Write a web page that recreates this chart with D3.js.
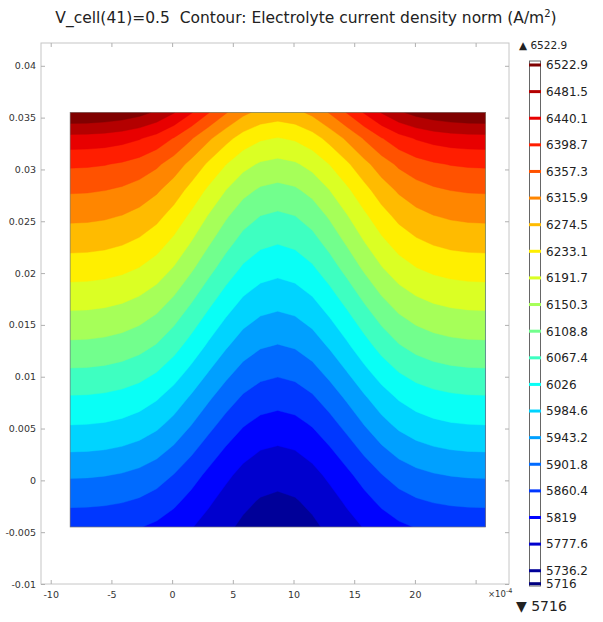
<!DOCTYPE html>
<html>
<head>
<meta charset="utf-8">
<script src="https://cdn.jsdelivr.net/npm/d3@7"></script>
<style>
  body { margin: 0; background: #fff; }
  svg { display: block; font-family: "DejaVu Sans", sans-serif; }
</style>
</head>
<body>
<div id="chart"></div>
<script>
// contour levels shown in the colour legend (A/m^2)
const levels = [6522.9, 6481.5, 6440.1, 6398.7, 6357.3, 6315.9, 6274.5, 6233.1, 6191.7,
  6150.3, 6108.8, 6067.4, 6026, 5984.6, 5943.2, 5901.8, 5860.4, 5819, 5777.6, 5736.2, 5716];
const levelLabels = ["6522.9", "6481.5", "6440.1", "6398.7", "6357.3", "6315.9", "6274.5",
  "6233.1", "6191.7", "6150.3", "6108.8", "6067.4", "6026", "5984.6", "5943.2", "5901.8",
  "5860.4", "5819", "5777.6", "5736.2", "5716"];
const maxValue = 6522.9;
const minValue = 5716;

const xTicks = [-10, -5, 0, 5, 10, 15, 20, 25];
const xTickLabels = ["-10", "-5", "0", "5", "10", "15", "20", ""];
const yTicks = [0.04, 0.035, 0.03, 0.025, 0.02, 0.015, 0.01, 0.005, 0, -0.005, -0.01];
const yTickLabels = ["0.04", "0.035", "0.03", "0.025", "0.02", "0.015", "0.01", "0.005", "0", "-0.005", "-0.01"];

// sample grid (x in 1e-4 m, y in m)
const gridX = [-8.4, -6.975, -5.55, -4.125, -2.7, -1.275, 0.15, 1.575, 3.0, 4.425, 5.85, 7.275,
  8.7, 10.125, 11.55, 12.975, 14.4, 15.825, 17.25, 18.675, 20.1, 21.525, 22.95, 24.375, 25.8];
const gridY = [0.0355, 0.033, 0.0305, 0.028, 0.0255, 0.023, 0.0205, 0.018, 0.0155, 0.013,
  0.0105, 0.008, 0.0055, 0.003, 0.0005, -0.002, -0.0045];
const density = [
  [6522.9, 6521.6, 6517.5, 6509.5, 6496.1, 6474.7, 6442.5, 6402.3, 6359.5, 6319.3, 6284.5, 6263.0, 6255.0, 6263.0, 6284.5, 6319.3, 6359.5, 6402.3, 6442.5, 6474.7, 6496.1, 6509.5, 6517.5, 6521.6, 6522.9],
  [6425.6, 6424.4, 6420.9, 6413.8, 6402.0, 6383.2, 6354.9, 6319.5, 6281.8, 6246.4, 6215.7, 6196.9, 6189.8, 6196.9, 6215.7, 6246.4, 6281.8, 6319.5, 6354.9, 6383.2, 6402.0, 6413.8, 6420.9, 6424.4, 6425.6],
  [6363.7, 6362.6, 6359.2, 6352.4, 6341.2, 6323.1, 6296.1, 6262.3, 6226.3, 6192.5, 6163.2, 6145.2, 6138.4, 6145.2, 6163.2, 6192.5, 6226.3, 6262.3, 6296.1, 6323.1, 6341.2, 6352.4, 6359.2, 6362.6, 6363.7],
  [6321.0, 6319.9, 6316.5, 6309.8, 6298.5, 6280.5, 6253.6, 6219.8, 6183.9, 6150.2, 6120.9, 6102.9, 6096.2, 6102.9, 6120.9, 6150.2, 6183.9, 6219.8, 6253.6, 6280.5, 6298.5, 6309.8, 6316.5, 6319.9, 6321.0],
  [6284.4, 6283.3, 6279.9, 6273.2, 6262.0, 6244.1, 6217.2, 6183.6, 6147.7, 6114.1, 6085.0, 6067.0, 6060.3, 6067.0, 6085.0, 6114.1, 6147.7, 6183.6, 6217.2, 6244.1, 6262.0, 6273.2, 6279.9, 6283.3, 6284.4],
  [6248.7, 6247.6, 6244.3, 6237.7, 6226.7, 6209.1, 6182.7, 6149.7, 6114.6, 6081.6, 6053.0, 6035.4, 6028.8, 6035.4, 6053.0, 6081.6, 6114.6, 6149.7, 6182.7, 6209.1, 6226.7, 6237.7, 6244.3, 6247.6, 6248.7],
  [6212.3, 6211.2, 6208.0, 6201.5, 6190.8, 6173.6, 6147.8, 6115.5, 6081.1, 6048.9, 6020.9, 6003.7, 5997.3, 6003.7, 6020.9, 6048.9, 6081.1, 6115.5, 6147.8, 6173.6, 6190.8, 6201.5, 6208.0, 6211.2, 6212.3],
  [6174.5, 6173.5, 6170.3, 6164.0, 6153.5, 6136.8, 6111.6, 6080.2, 6046.7, 6015.3, 5988.0, 5971.3, 5965.0, 5971.3, 5988.0, 6015.3, 6046.7, 6080.2, 6111.6, 6136.8, 6153.5, 6164.0, 6170.3, 6173.5, 6174.5],
  [6137.2, 6136.2, 6133.1, 6127.0, 6116.7, 6100.4, 6075.8, 6045.1, 6012.3, 5981.6, 5955.0, 5938.6, 5932.5, 5938.6, 5955.0, 5981.6, 6012.3, 6045.1, 6075.8, 6100.4, 6116.7, 6127.0, 6133.1, 6136.2, 6137.2],
  [6100.8, 6099.8, 6096.8, 6090.8, 6080.7, 6064.7, 6040.6, 6010.4, 5978.3, 5948.2, 5922.1, 5906.0, 5900.0, 5906.0, 5922.1, 5948.2, 5978.3, 6010.4, 6040.6, 6064.7, 6080.7, 6090.8, 6096.8, 6099.8, 6100.8],
  [6062.2, 6061.2, 6058.3, 6052.5, 6042.7, 6027.1, 6003.8, 5974.5, 5943.4, 5914.2, 5888.8, 5873.2, 5867.4, 5873.2, 5888.8, 5914.2, 5943.4, 5974.5, 6003.8, 6027.1, 6042.7, 6052.5, 6058.3, 6061.2, 6062.2],
  [6022.8, 6021.9, 6019.0, 6013.4, 6004.0, 5989.0, 5966.4, 5938.2, 5908.2, 5880.0, 5855.6, 5840.5, 5834.9, 5840.5, 5855.6, 5880.0, 5908.2, 5938.2, 5966.4, 5989.0, 6004.0, 6013.4, 6019.0, 6021.9, 6022.8],
  [5987.0, 5986.1, 5983.3, 5977.8, 5968.6, 5953.9, 5931.9, 5904.3, 5874.9, 5847.4, 5823.5, 5808.8, 5803.3, 5808.8, 5823.5, 5847.4, 5874.9, 5904.3, 5931.9, 5953.9, 5968.6, 5977.8, 5983.3, 5986.1, 5987.0],
  [5947.5, 5946.6, 5944.0, 5938.8, 5930.1, 5916.2, 5895.3, 5869.2, 5841.4, 5815.3, 5792.6, 5778.7, 5773.5, 5778.7, 5792.6, 5815.3, 5841.4, 5869.2, 5895.3, 5916.2, 5930.1, 5938.8, 5944.0, 5946.6, 5947.5],
  [5906.4, 5905.6, 5903.2, 5898.5, 5890.5, 5877.9, 5858.8, 5835.1, 5809.7, 5785.9, 5765.3, 5752.7, 5747.9, 5752.7, 5765.3, 5785.9, 5809.7, 5835.1, 5858.8, 5877.9, 5890.5, 5898.5, 5903.2, 5905.6, 5906.4],
  [5869.9, 5869.2, 5867.1, 5862.9, 5855.8, 5844.6, 5827.7, 5806.5, 5784.0, 5762.9, 5744.6, 5733.3, 5729.1, 5733.3, 5744.6, 5762.9, 5784.0, 5806.5, 5827.7, 5844.6, 5855.8, 5862.9, 5867.1, 5869.2, 5869.9],
  [5832.3, 5831.7, 5830.0, 5826.5, 5820.7, 5811.4, 5797.4, 5780.0, 5761.4, 5743.9, 5728.8, 5719.5, 5716.0, 5719.5, 5728.8, 5743.9, 5761.4, 5780.0, 5797.4, 5811.4, 5820.7, 5826.5, 5830.0, 5831.7, 5832.3]
];

const width = 603;
const height = 622;
const frame = { left: 41, right: 509, top: 43, bottom: 584 };

const svg = d3.select("#chart")
  .append("svg")
  .attr("width", width)
  .attr("height", height);

const xScale = d3.scaleLinear().domain([-10.8, 27.75]).range([frame.left, frame.right]);
const yScale = d3.scaleLinear().domain([-0.01, 0.0422]).range([frame.bottom, frame.top]);

// jet colour table
const jet = d3.scaleLinear()
  .domain([0, 0.125, 0.375, 0.625, 0.875, 1])
  .range(["#000080", "#0000ff", "#00ffff", "#ffff00", "#ff0000", "#800000"])
  .interpolate(d3.interpolateRgb);
const norm = d3.scaleLinear().domain([minValue, maxValue]);
const colorOf = (v) => jet(norm(v));

// title
const title = svg.append("text")
  .attr("x", 306)
  .attr("y", 23)
  .attr("text-anchor", "middle")
  .style("white-space", "pre")
  .style("font-size", "15.5px")
  .style("fill", "#222");
title.append("tspan").text("V_cell(41)=0.5  Contour: Electrolyte current density norm (A/m");
title.append("tspan").attr("dy", -6).style("font-size", "10px").text("2");
title.append("tspan").attr("dy", 6).text(")");

// filled contours
const nx = gridX.length;
const ny = gridY.length;
const ascending = levels.slice().reverse();
const thresholds = ascending.slice(0, -1);
const contours = d3.contours()
  .size([nx, ny])
  .thresholds(thresholds)(density.flat());

const gx = d3.scaleLinear().domain([0.5, nx - 0.5]).range([xScale(gridX[0]), xScale(gridX[nx - 1])]);
const gy = d3.scaleLinear().domain([0.5, ny - 0.5]).range([yScale(gridY[0]), yScale(gridY[ny - 1])]);
const path = d3.geoPath(d3.geoTransform({
  point(px, py) { this.stream.point(gx(px), gy(py)); }
}));

const x0 = xScale(gridX[0]), x1 = xScale(gridX[nx - 1]);
const y0 = yScale(gridY[0]), y1 = yScale(gridY[ny - 1]);

svg.append("clipPath")
  .attr("id", "domain-clip")
  .append("rect")
  .attr("x", x0).attr("y", y0)
  .attr("width", x1 - x0).attr("height", y1 - y0);

svg.append("g")
  .attr("clip-path", "url(#domain-clip)")
  .selectAll("path")
  .data(contours)
  .enter()
  .append("path")
  .attr("d", path)
  .attr("fill", (d, i) => colorOf(ascending[i + 1]))
  .attr("stroke", (d, i) => colorOf(ascending[i + 1]))
  .attr("stroke-width", 0.4);

svg.append("rect")
  .attr("x", x0).attr("y", y0)
  .attr("width", x1 - x0).attr("height", y1 - y0)
  .attr("fill", "none")
  .attr("stroke", "#777")
  .attr("stroke-width", 0.7);

// axes frame
svg.append("rect")
  .attr("x", frame.left).attr("y", frame.top)
  .attr("width", frame.right - frame.left)
  .attr("height", frame.bottom - frame.top)
  .attr("fill", "none")
  .attr("stroke", "#c6c6c6")
  .attr("stroke-width", 1);

const styleAxis = (g) => {
  g.select(".domain").remove();
  g.selectAll(".tick line").attr("stroke", "#b0b0b0");
  g.selectAll(".tick text")
    .style("font-family", "DejaVu Sans, sans-serif")
    .style("font-size", "9.5px")
    .style("fill", "#333");
};

svg.append("g")
  .attr("transform", `translate(0, ${frame.bottom})`)
  .call(d3.axisBottom(xScale).tickValues(xTicks).tickSize(-4).tickPadding(7)
    .tickFormat((d, i) => xTickLabels[i]))
  .call(styleAxis);

svg.append("g")
  .attr("transform", `translate(0, ${frame.top})`)
  .call(d3.axisTop(xScale).tickValues(xTicks).tickSize(-4).tickFormat(""))
  .call(styleAxis);

svg.append("g")
  .attr("transform", `translate(${frame.left}, 0)`)
  .call(d3.axisLeft(yScale).tickValues(yTicks).tickSize(-4).tickPadding(5)
    .tickFormat((d, i) => yTickLabels[i]))
  .call(styleAxis);

svg.append("g")
  .attr("transform", `translate(${frame.right}, 0)`)
  .call(d3.axisRight(yScale).tickValues(yTicks).tickSize(-4).tickFormat(""))
  .call(styleAxis);

// x10^-4 multiplier
const mult = svg.append("text")
  .attr("x", 488)
  .attr("y", 597)
  .style("font-size", "8.5px")
  .style("fill", "#333");
mult.append("tspan").text("\u00d710");
mult.append("tspan").attr("dy", -4).style("font-size", "6.5px").text("-4");

// colour legend
const legendScale = d3.scaleLinear().domain([minValue, maxValue]).range([583.7, 65]);
const legend = svg.append("g");

legend.append("rect")
  .attr("x", 529.5).attr("y", 61)
  .attr("width", 11).attr("height", 525)
  .attr("fill", "#fff")
  .attr("stroke", "#666")
  .attr("stroke-width", 1);

legend.selectAll(".mark")
  .data(levels)
  .enter()
  .append("rect")
  .attr("class", "mark")
  .attr("x", 529)
  .attr("width", 12)
  .attr("y", (d) => legendScale(d) - 1.5)
  .attr("height", 3)
  .attr("fill", (d) => colorOf(d));

legend.selectAll(".label")
  .data(levels)
  .enter()
  .append("text")
  .attr("class", "label")
  .attr("x", 546)
  .attr("y", (d) => legendScale(d))
  .attr("dy", "0.36em")
  .style("font-size", "12px")
  .style("fill", "#222")
  .text((d, i) => levelLabels[i]);

svg.append("text")
  .attr("x", 519)
  .attr("y", 49)
  .style("font-size", "10.5px")
  .style("fill", "#222")
  .text("\u25b2 " + levelLabels[0]);

svg.append("text")
  .attr("x", 516)
  .attr("y", 611)
  .style("font-size", "14px")
  .style("fill", "#222")
  .text("\u25bc " + levelLabels[levelLabels.length - 1]);
</script>
</body>
</html>
